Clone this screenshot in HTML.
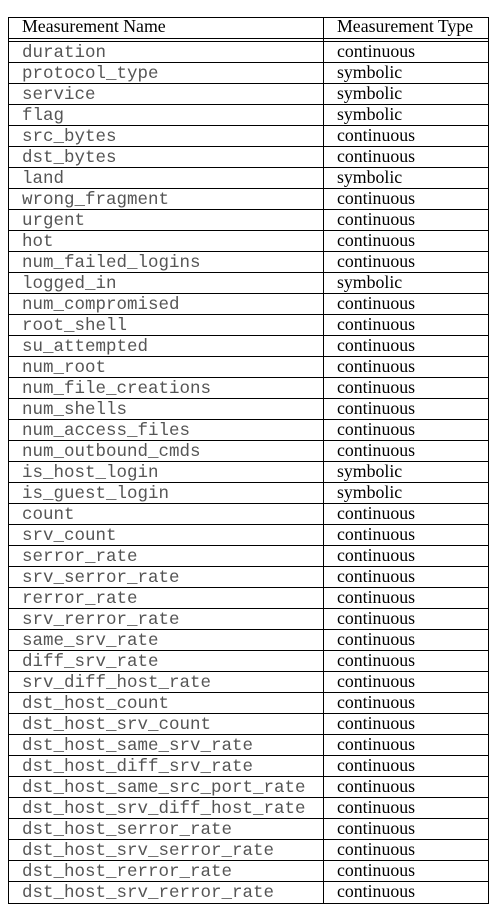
<!DOCTYPE html>
<html><head><meta charset="utf-8"><style>
body{margin:0;width:499px;height:919px;background:#fff;position:relative;overflow:hidden}
.h{position:absolute;left:8px;width:481px;height:1px;background:#000}
.v{position:absolute;width:1px;background:#000;top:17px;height:887px}
.m{position:absolute;left:22px;font-family:"Liberation Mono",monospace;font-size:17.5px;color:#555;line-height:21px;white-space:pre}
.s{position:absolute;left:337px;font-family:"Liberation Serif",serif;font-size:17.8px;color:#000;line-height:20px;white-space:pre}
</style></head><body>
<div class="h" style="top:17px"></div>
<div class="h" style="top:38px"></div>
<div class="v" style="left:8px"></div>
<div class="v" style="left:323px"></div>
<div class="v" style="left:488px"></div>
<div style="position:absolute;left:22px;top:16px;font-family:'Liberation Serif',serif;font-size:17.8px;line-height:21px">Measurement Name</div>
<div style="position:absolute;left:337px;top:16px;font-family:'Liberation Serif',serif;font-size:17.8px;line-height:21px">Measurement Type</div>
<div id="rows"></div>
<script>
var d=[["duration","c"],["protocol_type","s"],["service","s"],["flag","s"],["src_bytes","c"],["dst_bytes","c"],["land","s"],["wrong_fragment","c"],["urgent","c"],["hot","c"],["num_failed_logins","c"],["logged_in","s"],["num_compromised","c"],["root_shell","c"],["su_attempted","c"],["num_root","c"],["num_file_creations","c"],["num_shells","c"],["num_access_files","c"],["num_outbound_cmds","c"],["is_host_login","s"],["is_guest_login","s"],["count","c"],["srv_count","c"],["serror_rate","c"],["srv_serror_rate","c"],["rerror_rate","c"],["srv_rerror_rate","c"],["same_srv_rate","c"],["diff_srv_rate","c"],["srv_diff_host_rate","c"],["dst_host_count","c"],["dst_host_srv_count","c"],["dst_host_same_srv_rate","c"],["dst_host_diff_srv_rate","c"],["dst_host_same_src_port_rate","c"],["dst_host_srv_diff_host_rate","c"],["dst_host_serror_rate","c"],["dst_host_srv_serror_rate","c"],["dst_host_rerror_rate","c"],["dst_host_srv_rerror_rate","c"]];
var h="";
for(var i=0;i<d.length;i++){var t=41+i*21;
h+='<div class="h" style="top:'+t+'px"></div>';
h+='<div class="m" style="top:'+(t+2)+'px">'+d[i][0]+'</div>';
h+='<div class="s" style="top:'+t+'px">'+(d[i][1]=="c"?"continuous":"symbolic")+'</div>';}
h+='<div class="h" style="top:903px"></div>';
document.getElementById("rows").innerHTML=h;
</script>
</body></html>
